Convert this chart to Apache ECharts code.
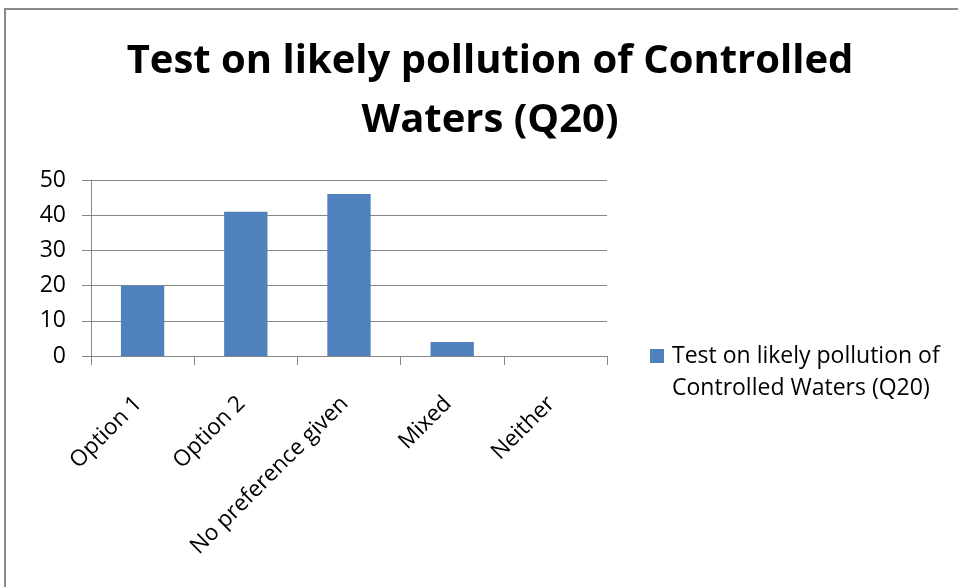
<!DOCTYPE html>
<html>
<head>
<meta charset="utf-8">
<script src="https://cdn.jsdelivr.net/npm/echarts@6/dist/echarts.min.js"></script>
<style>
  html, body { margin: 0; padding: 0; background: #fff; }
  #chart { width: 958px; height: 587px; }
</style>
</head>
<body>
<div id="chart"></div>
<script>
const chartTitle = 'Test on likely pollution of Controlled\nWaters (Q20)';
const seriesName = 'Test on likely pollution of Controlled Waters (Q20)';
const categories = ['Option 1', 'Option 2', 'No preference given', 'Mixed', 'Neither'];
const responses = [20, 41, 46, 4, 0];
const yTicks = { min: 0, max: 50, interval: 10 };

const FONT = 'Open Sans';
const GRID_GREY = '#878787';

const chart = echarts.init(document.getElementById('chart'), null, { renderer: 'canvas' });

chart.setOption({
  backgroundColor: '#ffffff',
  animation: false,
  graphic: [{
    type: 'rect',
    shape: { x: 5, y: 9, width: 1200, height: 1200 },
    style: { fill: 'none', stroke: '#8a8a8a', lineWidth: 2 },
    silent: true,
    z: 0
  }],
  title: {
    text: chartTitle,
    left: 485,
    top: 27,
    textAlign: 'center',
    textStyle: {
      fontFamily: FONT,
      fontSize: 40,
      fontWeight: 'bold',
      color: '#000',
      lineHeight: 59
    }
  },
  legend: {
    orient: 'vertical',
    left: 645,
    top: 303,
    itemWidth: 14,
    itemHeight: 14,
    icon: 'rect',
    data: [seriesName],
    // leading blank line keeps the marker level with the first text line
    formatter: name => '\n' + name.replace(' Controlled', '\nControlled'),
    textStyle: {
      fontFamily: FONT,
      fontSize: 23,
      color: '#000',
      lineHeight: 32,
      padding: [0, 0, 0, 3]
    }
  },
  grid: {
    left: 91,
    top: 180,
    right: 351,
    bottom: 231,
    containLabel: false
  },
  xAxis: {
    type: 'category',
    data: categories,
    axisLine: { lineStyle: { color: GRID_GREY, width: 1 } },
    axisTick: { show: true, length: 9, alignWithLabel: false, lineStyle: { color: GRID_GREY } },
    axisLabel: {
      rotate: 45,
      interval: 0,
      margin: 40,
      padding: [0, 6, 0, 0],
      fontFamily: FONT,
      fontSize: 22.5,
      color: '#000'
    }
  },
  yAxis: {
    type: 'value',
    min: yTicks.min,
    max: yTicks.max,
    interval: yTicks.interval,
    axisLine: { show: true, lineStyle: { color: GRID_GREY, width: 1 } },
    axisTick: { show: true, length: 9, lineStyle: { color: GRID_GREY } },
    splitLine: { show: true, lineStyle: { color: GRID_GREY, width: 1 } },
    axisLabel: {
      margin: 25,
      fontFamily: FONT,
      fontSize: 23,
      color: '#000'
    }
  },
  series: [{
    name: seriesName,
    type: 'bar',
    data: responses,
    barWidth: '42%',
    itemStyle: { color: '#4F81BD' }
  }]
});
</script>
</body>
</html>
